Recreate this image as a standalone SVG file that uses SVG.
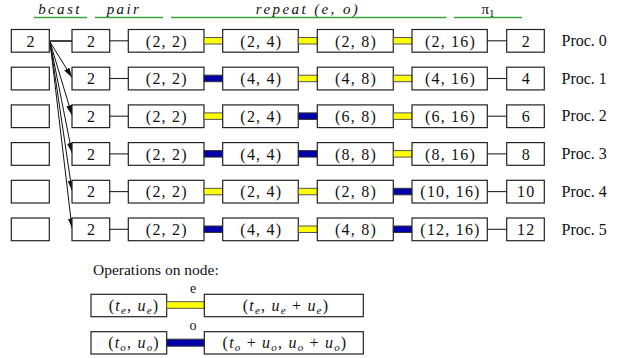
<svg xmlns="http://www.w3.org/2000/svg" width="621" height="358" viewBox="0 0 621 358">
<defs>
<style>
.box{fill:#fff;stroke:#222;stroke-width:1.2}
.t{font-family:'Liberation Serif','DejaVu Serif','Times New Roman',serif;font-size:16px;fill:#111;text-anchor:middle;letter-spacing:1.2px}
.p{font-family:'Liberation Serif','DejaVu Serif','Times New Roman',serif;font-size:16px;fill:#111}
.h{font-family:'Liberation Serif','DejaVu Serif','Times New Roman',serif;font-size:15px;font-style:italic;fill:#111;text-anchor:middle;letter-spacing:2.4px}
.g{stroke:#3aa53a;stroke-width:1.5}
.ln{stroke:#222;stroke-width:1.1;fill:none}
.Y{fill:#ffff00;stroke:#555;stroke-width:1}
.B{fill:#0000aa;stroke:#333;stroke-width:1}
.i{font-style:italic}
.ar{stroke:#111;stroke-width:1;fill:none;marker-end:url(#ah)}
</style>
<marker id="ah" viewBox="0 0 10 6" refX="10" refY="3" markerWidth="10" markerHeight="6" markerUnits="userSpaceOnUse" orient="auto">
<path d="M0,0 L10,3 L0,6 z" fill="#111"/>
</marker>
</defs>

<g id="headers">
<text class="h" x="60" y="14">bcast</text>
<line class="g" x1="34" y1="17.5" x2="87" y2="17.5"/>
<text class="h" x="124" y="14">pair</text>
<line class="g" x1="95" y1="17.5" x2="163" y2="17.5"/>
<text class="h" x="308" y="14">repeat (e, o)</text>
<line class="g" x1="171" y1="17.5" x2="446" y2="17.5"/>
<text class="h" x="488" y="14" style="font-style:normal;letter-spacing:0">π<tspan font-size="11" dy="3">1</tspan></text>
<line class="g" x1="454" y1="17.5" x2="522" y2="17.5"/>
</g>

<g id="connectors">
<line x1="49.5" y1="41" x2="72" y2="41" stroke="#111" stroke-width="1.6"/>
<line class="ar" x1="50" y1="42" x2="72" y2="77.5"/>
<line class="ar" x1="50" y1="42" x2="72" y2="115.2"/>
<line class="ar" x1="50" y1="42" x2="72" y2="152.9"/>
<line class="ar" x1="50" y1="42" x2="72" y2="190.6"/>
<line class="ar" x1="50" y1="42" x2="72" y2="228.3"/>
</g>

<g id="row0">
<rect class="box" x="11.3" y="29.5" width="38" height="22.7"/><text class="t" x="31" y="46.5">2</text>
<rect class="box" x="72" y="29.5" width="37.7" height="22.7"/><text class="t" x="91.5" y="46.5">2</text>
<line class="ln" x1="109.7" y1="40.8" x2="128.3" y2="40.8"/>
<rect class="box" x="128.3" y="29.5" width="75.7" height="22.7"/><text class="t" x="166.8" y="46.5">(2, 2)</text>
<rect class="Y" x="204" y="37.5" width="18.7" height="6.5"/>
<rect class="box" x="222.7" y="29.5" width="75.6" height="22.7"/><text class="t" x="261.3" y="46.5">(2, 4)</text>
<rect class="Y" x="298.3" y="37.5" width="19" height="6.5"/>
<rect class="box" x="317.3" y="29.5" width="76" height="22.7"/><text class="t" x="356" y="46.5">(2, 8)</text>
<rect class="Y" x="393.3" y="37.5" width="18.7" height="6.5"/>
<rect class="box" x="412" y="29.5" width="75.3" height="22.7"/><text class="t" x="450.5" y="46.5">(2, 16)</text>
<line class="ln" x1="487.3" y1="40.8" x2="506.7" y2="40.8"/>
<rect class="box" x="506.7" y="29.5" width="37.6" height="22.7"/><text class="t" x="526.3" y="46.5">2</text>
<text class="p" x="561.5" y="46">Proc. 0</text>
</g>

<g id="row1" transform="translate(0,37.7)">
<rect class="box" x="11.3" y="29.5" width="38" height="22.7"/>
<rect class="box" x="72" y="29.5" width="37.7" height="22.7"/><text class="t" x="91.5" y="46.5">2</text>
<line class="ln" x1="109.7" y1="40.8" x2="128.3" y2="40.8"/>
<rect class="box" x="128.3" y="29.5" width="75.7" height="22.7"/><text class="t" x="166.8" y="46.5">(2, 2)</text>
<rect class="B" x="204" y="37.5" width="18.7" height="6.5"/>
<rect class="box" x="222.7" y="29.5" width="75.6" height="22.7"/><text class="t" x="261.3" y="46.5">(4, 4)</text>
<rect class="Y" x="298.3" y="37.5" width="19" height="6.5"/>
<rect class="box" x="317.3" y="29.5" width="76" height="22.7"/><text class="t" x="356" y="46.5">(4, 8)</text>
<rect class="Y" x="393.3" y="37.5" width="18.7" height="6.5"/>
<rect class="box" x="412" y="29.5" width="75.3" height="22.7"/><text class="t" x="450.5" y="46.5">(4, 16)</text>
<line class="ln" x1="487.3" y1="40.8" x2="506.7" y2="40.8"/>
<rect class="box" x="506.7" y="29.5" width="37.6" height="22.7"/><text class="t" x="526.3" y="46.5">4</text>
<text class="p" x="561.5" y="46">Proc. 1</text>
</g>

<g id="row2" transform="translate(0,75.4)">
<rect class="box" x="11.3" y="29.5" width="38" height="22.7"/>
<rect class="box" x="72" y="29.5" width="37.7" height="22.7"/><text class="t" x="91.5" y="46.5">2</text>
<line class="ln" x1="109.7" y1="40.8" x2="128.3" y2="40.8"/>
<rect class="box" x="128.3" y="29.5" width="75.7" height="22.7"/><text class="t" x="166.8" y="46.5">(2, 2)</text>
<rect class="Y" x="204" y="37.5" width="18.7" height="6.5"/>
<rect class="box" x="222.7" y="29.5" width="75.6" height="22.7"/><text class="t" x="261.3" y="46.5">(2, 4)</text>
<rect class="B" x="298.3" y="37.5" width="19" height="6.5"/>
<rect class="box" x="317.3" y="29.5" width="76" height="22.7"/><text class="t" x="356" y="46.5">(6, 8)</text>
<rect class="Y" x="393.3" y="37.5" width="18.7" height="6.5"/>
<rect class="box" x="412" y="29.5" width="75.3" height="22.7"/><text class="t" x="450.5" y="46.5">(6, 16)</text>
<line class="ln" x1="487.3" y1="40.8" x2="506.7" y2="40.8"/>
<rect class="box" x="506.7" y="29.5" width="37.6" height="22.7"/><text class="t" x="526.3" y="46.5">6</text>
<text class="p" x="561.5" y="46">Proc. 2</text>
</g>

<g id="row3" transform="translate(0,113.1)">
<rect class="box" x="11.3" y="29.5" width="38" height="22.7"/>
<rect class="box" x="72" y="29.5" width="37.7" height="22.7"/><text class="t" x="91.5" y="46.5">2</text>
<line class="ln" x1="109.7" y1="40.8" x2="128.3" y2="40.8"/>
<rect class="box" x="128.3" y="29.5" width="75.7" height="22.7"/><text class="t" x="166.8" y="46.5">(2, 2)</text>
<rect class="B" x="204" y="37.5" width="18.7" height="6.5"/>
<rect class="box" x="222.7" y="29.5" width="75.6" height="22.7"/><text class="t" x="261.3" y="46.5">(4, 4)</text>
<rect class="B" x="298.3" y="37.5" width="19" height="6.5"/>
<rect class="box" x="317.3" y="29.5" width="76" height="22.7"/><text class="t" x="356" y="46.5">(8, 8)</text>
<rect class="Y" x="393.3" y="37.5" width="18.7" height="6.5"/>
<rect class="box" x="412" y="29.5" width="75.3" height="22.7"/><text class="t" x="450.5" y="46.5">(8, 16)</text>
<line class="ln" x1="487.3" y1="40.8" x2="506.7" y2="40.8"/>
<rect class="box" x="506.7" y="29.5" width="37.6" height="22.7"/><text class="t" x="526.3" y="46.5">8</text>
<text class="p" x="561.5" y="46">Proc. 3</text>
</g>

<g id="row4" transform="translate(0,150.8)">
<rect class="box" x="11.3" y="29.5" width="38" height="22.7"/>
<rect class="box" x="72" y="29.5" width="37.7" height="22.7"/><text class="t" x="91.5" y="46.5">2</text>
<line class="ln" x1="109.7" y1="40.8" x2="128.3" y2="40.8"/>
<rect class="box" x="128.3" y="29.5" width="75.7" height="22.7"/><text class="t" x="166.8" y="46.5">(2, 2)</text>
<rect class="Y" x="204" y="37.5" width="18.7" height="6.5"/>
<rect class="box" x="222.7" y="29.5" width="75.6" height="22.7"/><text class="t" x="261.3" y="46.5">(2, 4)</text>
<rect class="Y" x="298.3" y="37.5" width="19" height="6.5"/>
<rect class="box" x="317.3" y="29.5" width="76" height="22.7"/><text class="t" x="356" y="46.5">(2, 8)</text>
<rect class="B" x="393.3" y="37.5" width="18.7" height="6.5"/>
<rect class="box" x="412" y="29.5" width="75.3" height="22.7"/><text class="t" x="450.5" y="46.5">(10, 16)</text>
<line class="ln" x1="487.3" y1="40.8" x2="506.7" y2="40.8"/>
<rect class="box" x="506.7" y="29.5" width="37.6" height="22.7"/><text class="t" x="526.3" y="46.5">10</text>
<text class="p" x="561.5" y="46">Proc. 4</text>
</g>

<g id="row5" transform="translate(0,188.5)">
<rect class="box" x="11.3" y="29.5" width="38" height="22.7"/>
<rect class="box" x="72" y="29.5" width="37.7" height="22.7"/><text class="t" x="91.5" y="46.5">2</text>
<line class="ln" x1="109.7" y1="40.8" x2="128.3" y2="40.8"/>
<rect class="box" x="128.3" y="29.5" width="75.7" height="22.7"/><text class="t" x="166.8" y="46.5">(2, 2)</text>
<rect class="B" x="204" y="37.5" width="18.7" height="6.5"/>
<rect class="box" x="222.7" y="29.5" width="75.6" height="22.7"/><text class="t" x="261.3" y="46.5">(4, 4)</text>
<rect class="Y" x="298.3" y="37.5" width="19" height="6.5"/>
<rect class="box" x="317.3" y="29.5" width="76" height="22.7"/><text class="t" x="356" y="46.5">(4, 8)</text>
<rect class="B" x="393.3" y="37.5" width="18.7" height="6.5"/>
<rect class="box" x="412" y="29.5" width="75.3" height="22.7"/><text class="t" x="450.5" y="46.5">(12, 16)</text>
<line class="ln" x1="487.3" y1="40.8" x2="506.7" y2="40.8"/>
<rect class="box" x="506.7" y="29.5" width="37.6" height="22.7"/><text class="t" x="526.3" y="46.5">12</text>
<text class="p" x="561.5" y="46">Proc. 5</text>
</g>

<g id="legend">
<text class="p" x="93" y="275" style="font-size:15.5px">Operations on node:</text>
<rect class="box" x="91" y="294.3" width="75.7" height="22.4"/>
<text class="t" x="134" y="311">(<tspan class="i">t</tspan><tspan class="i" font-size="11" dy="3">e</tspan><tspan dy="-3">, </tspan><tspan class="i">u</tspan><tspan class="i" font-size="11" dy="3">e</tspan><tspan dy="-3">)</tspan></text>
<rect class="Y" x="166.7" y="301.7" width="37.6" height="6.6"/>
<text class="p" x="193" y="293" style="font-size:14px" text-anchor="middle">e</text>
<rect class="box" x="204.3" y="294.3" width="159" height="22.4"/>
<text class="t" x="286" y="311">(<tspan class="i">t</tspan><tspan class="i" font-size="11" dy="3">e</tspan><tspan dy="-3">, </tspan><tspan class="i">u</tspan><tspan class="i" font-size="11" dy="3">e</tspan><tspan dy="-3"> + </tspan><tspan class="i">u</tspan><tspan class="i" font-size="11" dy="3">e</tspan><tspan dy="-3">)</tspan></text>

<rect class="box" x="91" y="331.7" width="75.7" height="22.3"/>
<text class="t" x="134" y="348">(<tspan class="i">t</tspan><tspan class="i" font-size="11" dy="3">o</tspan><tspan dy="-3">, </tspan><tspan class="i">u</tspan><tspan class="i" font-size="11" dy="3">o</tspan><tspan dy="-3">)</tspan></text>
<rect class="B" x="166.7" y="339.2" width="37.6" height="7"/>
<text class="p" x="193" y="330" style="font-size:14px" text-anchor="middle">o</text>
<rect class="box" x="204.3" y="331.7" width="159" height="22.3"/>
<text class="t" x="285" y="348">(<tspan class="i">t</tspan><tspan class="i" font-size="11" dy="3">o</tspan><tspan dy="-3"> + </tspan><tspan class="i">u</tspan><tspan class="i" font-size="11" dy="3">o</tspan><tspan dy="-3">, </tspan><tspan class="i">u</tspan><tspan class="i" font-size="11" dy="3">o</tspan><tspan dy="-3"> + </tspan><tspan class="i">u</tspan><tspan class="i" font-size="11" dy="3">o</tspan><tspan dy="-3">)</tspan></text>
</g>
</svg>
